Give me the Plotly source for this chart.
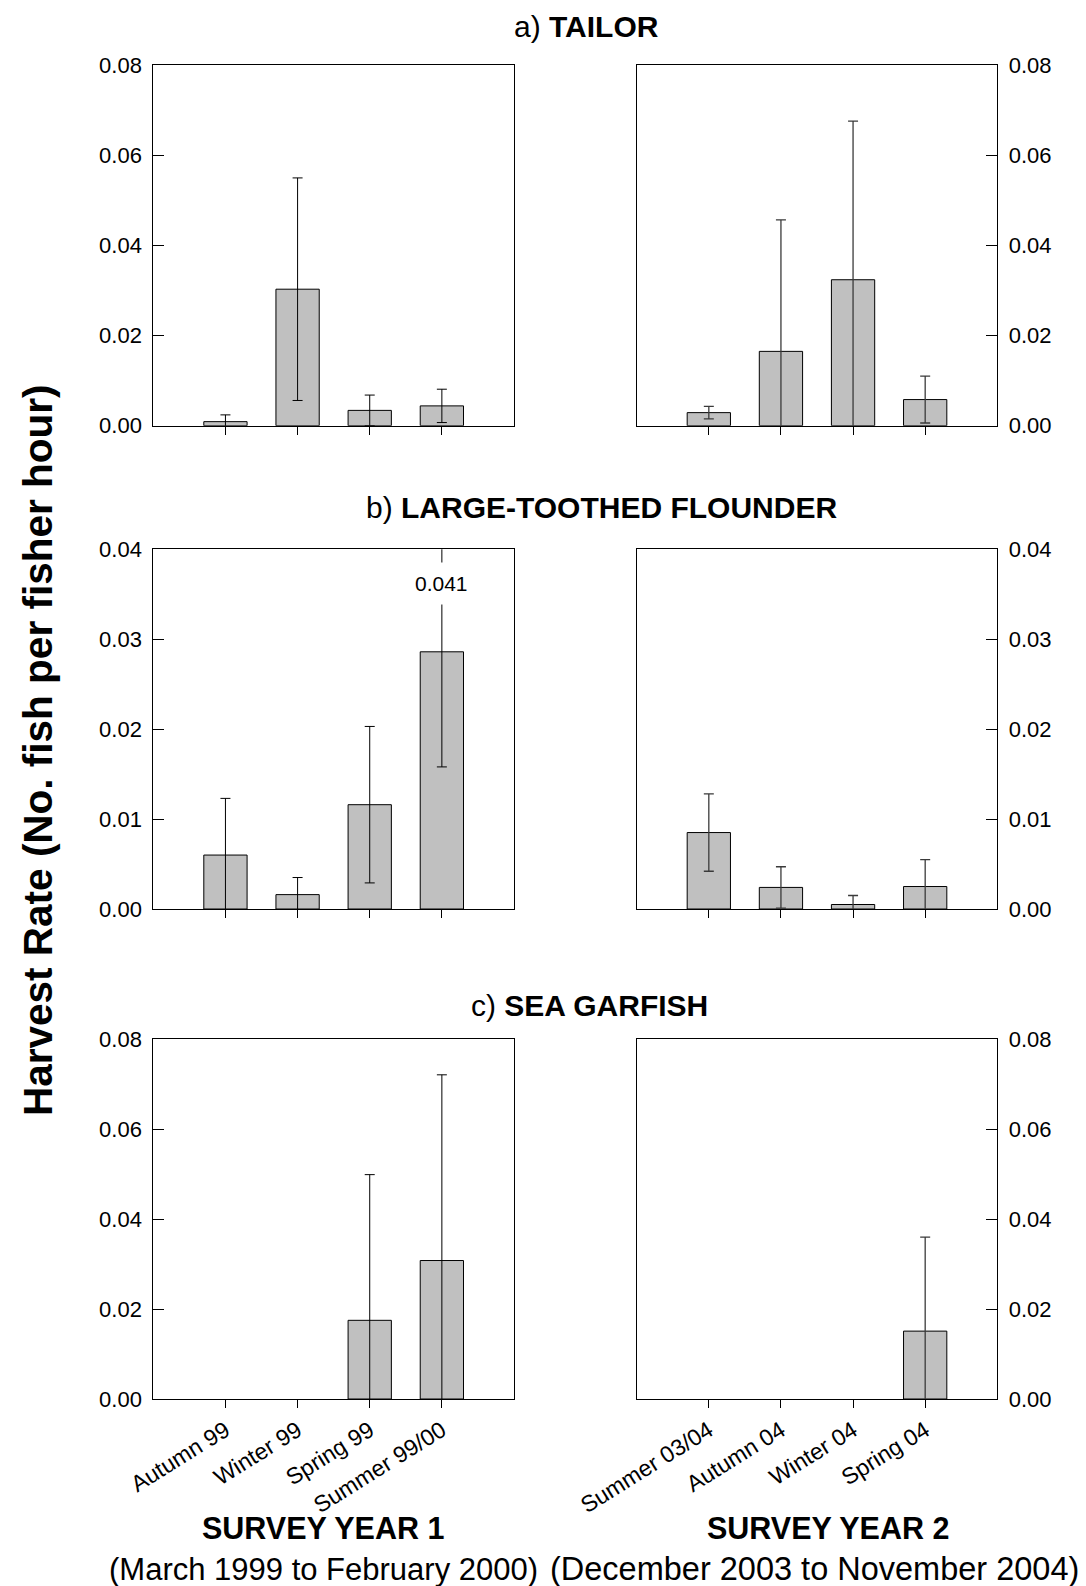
import plotly.graph_objects as go

# ---------------- data ----------------
seasons_year1 = ["Autumn 99", "Winter 99", "Spring 99", "Summer 99/00"]
seasons_year2 = ["Summer 03/04", "Autumn 04", "Winter 04", "Spring 04"]

tailor_year1 = [0.0009, 0.0303, 0.0034, 0.0044]
tailor_year1_err = [0.0015, 0.0247, 0.0034, 0.0037]
tailor_year2 = [0.0029, 0.0165, 0.0324, 0.0058]
tailor_year2_err = [0.0014, 0.0292, 0.0352, 0.0052]

flounder_year1 = [0.0060, 0.0016, 0.0116, 0.0286]
flounder_year1_err = [0.0063, 0.0019, 0.0087, 0.0128]
flounder_year2 = [0.0085, 0.0024, 0.0005, 0.0025]
flounder_year2_err = [0.0043, 0.0023, 0.0010, 0.0030]

garfish_year1 = [0.0, 0.0, 0.0175, 0.0308]
garfish_year1_err = [0.0, 0.0, 0.0324, 0.0413]
garfish_year2 = [0.0, 0.0, 0.0, 0.0151]
garfish_year2_err = [0.0, 0.0, 0.0, 0.0209]

panel_titles = ["a) <b>TAILOR</b>", "b) <b>LARGE-TOOTHED FLOUNDER</b>", "c) <b>SEA GARFISH</b>"]
y_max = [0.08, 0.04, 0.08]
y_ticks = [[0, 0.02, 0.04, 0.06, 0.08],
           [0, 0.01, 0.02, 0.03, 0.04],
           [0, 0.02, 0.04, 0.06, 0.08]]

rows = [
    (tailor_year1, tailor_year1_err, tailor_year2, tailor_year2_err),
    (flounder_year1, flounder_year1_err, flounder_year2, flounder_year2_err),
    (garfish_year1, garfish_year1_err, garfish_year2, garfish_year2_err),
]

# ---------------- layout geometry (pixels) ----------------
W, H = 1086, 1586
col_px = [(153.3, 514.0), (636.7, 997.3)]
row_px = [(65.3, 425.7), (549.3, 909.0), (1039.3, 1399.0)]
title_pos = [(586, 26), (601, 507), (590, 1005)]

FONT = "Liberation Sans, Arial, Helvetica, sans-serif"
BAR_FILL = "#c0c0c0"

fig = go.Figure()
layout = dict(
    width=W, height=H,
    margin=dict(l=0, r=0, t=0, b=0, pad=0, autoexpand=False),
    paper_bgcolor="white", plot_bgcolor="white",
    showlegend=False,
    font=dict(family=FONT, size=21, color="black"),
    annotations=[],
)

idx = 0
for r, (v1, e1, v2, e2) in enumerate(rows):
    for c, (vals, errs, cats) in enumerate([(v1, e1, seasons_year1), (v2, e2, seasons_year2)]):
        idx += 1
        xa = "x" if idx == 1 else f"x{idx}"
        ya = "y" if idx == 1 else f"y{idx}"
        xpos = list(range(len(cats)))
        shown = [v if v > 0 else None for v in vals]   # zero seasons: no bar drawn
        fig.add_trace(go.Bar(
            x=xpos, y=shown, width=0.6,
            marker=dict(color=BAR_FILL, line=dict(color="black", width=1)),
            error_y=dict(type="data", array=errs, symmetric=True,
                         color="black" if c == 0 else "#3a3a3a",
                         thickness=1 if c == 0 else 1.3, width=5),
            xaxis=xa, yaxis=ya, cliponaxis=True,
        ))
        x0, x1 = col_px[c]
        y0, y1 = row_px[r]
        layout[f"xaxis{'' if idx == 1 else idx}"] = dict(
            domain=[x0 / W, x1 / W], anchor=ya,
            range=[-1, len(cats)],
            tickmode="array", tickvals=xpos, ticktext=cats,
            showticklabels=(r == 2), tickangle=-32,
            ticks="outside", ticklen=8, tickcolor="black", tickwidth=1,
            showline=True, linecolor="black", linewidth=1, mirror=True,
            showgrid=False, zeroline=False, fixedrange=True,
            tickfont=dict(size=23, family=FONT),
        )
        layout[f"yaxis{'' if idx == 1 else idx}"] = dict(
            domain=[1 - y1 / H, 1 - y0 / H], anchor=xa,
            side="left" if c == 0 else "right",
            range=[0, y_max[r]],
            tickmode="array", tickvals=y_ticks[r],
            tickformat=".2f",
            ticks="inside", ticklen=11, tickcolor="black", tickwidth=1,
            ticklabelstandoff=6,
            showline=True, linecolor="black", linewidth=1, mirror=True,
            showgrid=False, zeroline=False, fixedrange=True,
            tickfont=dict(size=22, family=FONT),
        )

# off-scale upper limit label for the flounder Summer 99/00 bar
upper = flounder_year1[3] + flounder_year1_err[3]
layout["annotations"].append(dict(
    x=3, y=0.0362, xref="x3", yref="y3",
    text=f"{upper:.3f}", showarrow=False,
    font=dict(size=21, family=FONT), bgcolor="white", borderpad=9,
))

# panel titles
for t, (px, py) in zip(panel_titles, title_pos):
    layout["annotations"].append(dict(
        x=px / W, y=1 - py / H, xref="paper", yref="paper",
        text=t, showarrow=False, xanchor="center", yanchor="middle",
        font=dict(size=30, family=FONT),
    ))

# y axis title
layout["annotations"].append(dict(
    x=38 / W, y=1 - 751 / H, xref="paper", yref="paper",
    text="<b>Harvest Rate (No. fish per fisher hour)</b>", textangle=-90,
    showarrow=False, xanchor="center", yanchor="middle",
    font=dict(size=40.5, family=FONT),
))

# survey year labels
bottom = [
    ("<b>SURVEY YEAR 1</b>", 323, 1528, 30.5), ("(March 1999 to February 2000)", 323, 1569, 31),
    ("<b>SURVEY YEAR 2</b>", 828, 1528, 30.5), ("(December 2003 to November 2004)", 814, 1569, 32.5),
]
for t, px, py, fs in bottom:
    layout["annotations"].append(dict(
        x=px / W, y=1 - py / H, xref="paper", yref="paper",
        text=t, showarrow=False, xanchor="center", yanchor="middle",
        font=dict(size=fs, family=FONT),
    ))

fig.update_layout(**layout)
fig.write_html("out.html")
